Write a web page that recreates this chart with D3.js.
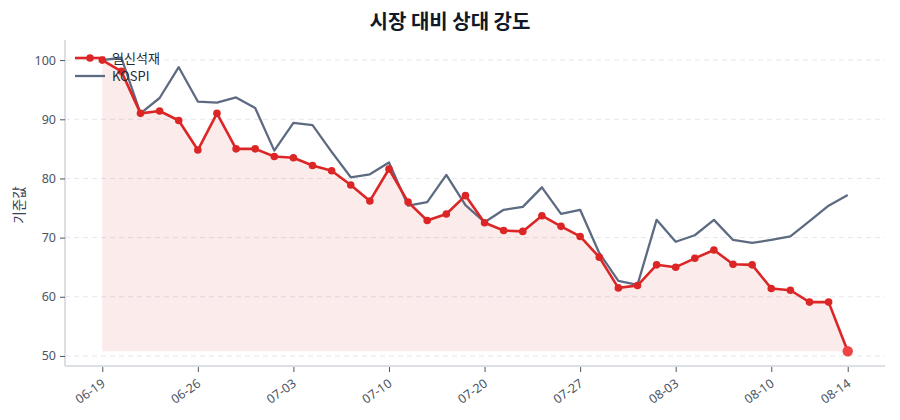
<!DOCTYPE html>
<html><head><meta charset="utf-8">
<script src="https://cdn.jsdelivr.net/npm/d3@7"></script>
<style>body{margin:0;background:#fff;} svg{display:block;font-family:"Noto Sans CJK KR","Noto Sans",sans-serif;}</style>
</head><body><svg id="c" width="900" height="420"></svg>
<script>
const dates = ["06-19","06-20","06-21","06-22","06-23","06-26","06-27","06-28","06-29","06-30",
"07-03","07-04","07-05","07-06","07-07","07-10","07-11","07-12","07-13","07-14",
"07-20","07-21","07-24","07-25","07-26","07-27","07-28","07-31","08-01","08-02",
"08-03","08-04","08-07","08-08","08-09","08-10","08-11","08-11","08-13","08-14"];
const stockValues = [100,98.1,91.0,91.4,89.8,84.8,91.0,85.0,85.0,83.7,
83.5,82.2,81.3,78.9,76.2,81.6,76.0,72.9,74.0,77.1,
72.5,71.2,71.05,73.7,71.9,70.2,66.7,61.5,61.9,65.4,
65.0,66.5,67.9,65.5,65.4,61.4,61.1,59.1,59.1,50.8];
const kospiValues = [100,100.4,91.0,93.6,98.8,93.0,92.8,93.7,91.9,84.7,
89.4,89.0,84.5,80.2,80.7,82.7,75.4,76.0,80.6,75.5,
72.6,74.7,75.2,78.5,74.0,74.7,67.4,62.7,62.0,73.0,
69.3,70.4,73.0,69.6,69.1,69.6,70.2,72.8,75.4,77.2];
const tickIdx = [0,5,10,15,20,25,30,35,39];
const yTicks = [50,60,70,80,90,100];
const seriesNames = ["일신석재","KOSPI"];

const svg = d3.select("#c");
const L=65,R=885,T=40,B=366;
const x = d3.scaleLinear().domain([-1.95,40.95]).range([L,R]);
const y = d3.scaleLinear().domain([48.3,103.4]).range([B,T]);
const idx = d3.range(dates.length);

// grid
svg.append("g").selectAll("line").data(yTicks).join("line")
  .attr("x1",L).attr("x2",R).attr("y1",d=>y(d)).attr("y2",d=>y(d))
  .attr("stroke","#e5e7eb").attr("stroke-dasharray","5,4").attr("stroke-width",1);

// area
const minV = d3.min(stockValues);
svg.append("path").datum(idx)
  .attr("d", d3.area().x(i=>x(i)).y0(y(minV)).y1(i=>y(stockValues[i])))
  .attr("fill","#dc2626").attr("fill-opacity",0.09);

// axes
const yAxis = svg.append("g").attr("transform",`translate(${L},0)`)
  .call(d3.axisLeft(y).tickValues(yTicks).tickSize(5).tickPadding(4));
const xAxis = svg.append("g").attr("transform",`translate(0,${B})`)
  .call(d3.axisBottom(x).tickValues(tickIdx).tickFormat(i=>dates[i]).tickSize(5).tickPadding(4));
[yAxis,xAxis].forEach(a=>{
  a.select(".domain").attr("stroke","#d1d5db").attr("stroke-width",1.5);
  a.selectAll(".tick line").attr("stroke","#4b5563");
  a.selectAll("text").attr("fill","#4b5563").style("font-size","12.5px").style("font-family","'Noto Sans','Noto Sans CJK KR',sans-serif");
});
yAxis.select(".domain").attr("d",`M0,${T}V${B}`);
xAxis.select(".domain").attr("d",`M${L},0H${R}`);
xAxis.selectAll(".tick line").attr("transform","translate(0,1)");
xAxis.selectAll("text").attr("text-anchor","end").attr("dy","0.3em")
  .attr("transform","translate(-4,9) rotate(-35)");

// lines
svg.append("path").datum(idx)
  .attr("d", d3.line().x(i=>x(i)).y(i=>y(kospiValues[i])))
  .attr("fill","none").attr("stroke","#5d6b82").attr("stroke-width",2.3).attr("stroke-linejoin","round");
svg.append("path").datum(idx)
  .attr("d", d3.line().x(i=>x(i)).y(i=>y(stockValues[i])))
  .attr("fill","none").attr("stroke","#dc2626").attr("stroke-width",2.6).attr("stroke-linejoin","round");
svg.append("g").selectAll("circle").data(idx.slice(0,-1)).join("circle")
  .attr("cx",i=>x(i)).attr("cy",i=>y(stockValues[i])).attr("r",3.8).attr("fill","#dc2626");
const last = idx.length-1;
svg.append("circle").attr("cx",x(last)).attr("cy",y(stockValues[last])).attr("r",5.2).attr("fill","#ef4444");

// legend
const lg = svg.append("g").attr("transform","translate(75,58)");
lg.append("line").attr("x1",0).attr("x2",30).attr("y1",0).attr("y2",0).attr("stroke","#dc2626").attr("stroke-width",2.6);
lg.append("circle").attr("cx",15).attr("cy",0).attr("r",3.8).attr("fill","#dc2626");
lg.append("line").attr("x1",0).attr("x2",30).attr("y1",18).attr("y2",18).attr("stroke","#5d6b82").attr("stroke-width",2.3);
lg.selectAll("text").data(seriesNames).join("text")
  .attr("x",37).attr("y",(d,i)=>i*18).attr("dy","0.35em")
  .attr("fill","#1f2937").style("font-size","13px").text(d=>d);

// title
svg.append("text").attr("x",450).attr("y",29).attr("text-anchor","middle")
  .attr("fill","#111827").style("font-size","20px").style("font-weight","700").text("시장 대비 상대 강도");
// y label
svg.append("text").attr("transform","translate(24,205) rotate(-90)").attr("text-anchor","middle")
  .attr("fill","#374151").style("font-size","13.5px").text("기준값");
</script></body></html>
